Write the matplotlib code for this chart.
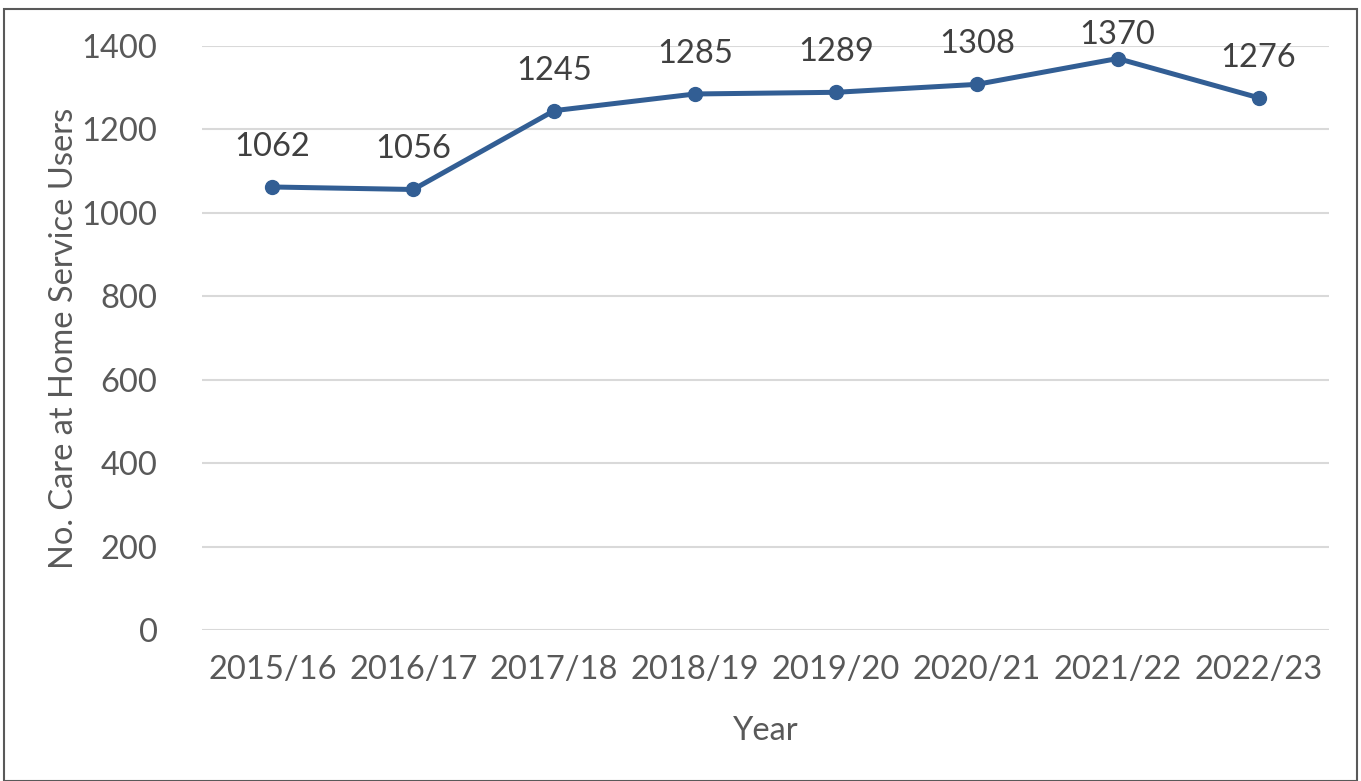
import matplotlib
matplotlib.use("Agg")
import matplotlib.pyplot as plt
from matplotlib.patches import Rectangle

plt.rcParams['font.family'] = ['Lato', 'DejaVu Sans']

years = ["2015/16", "2016/17", "2017/18", "2018/19", "2019/20", "2020/21", "2021/22", "2022/23"]
users = [1062, 1056, 1245, 1285, 1289, 1308, 1370, 1276]
y_ticks = [0, 200, 400, 600, 800, 1000, 1200, 1400]

fig = plt.figure(figsize=(13.61, 7.81), dpi=100)
ax = fig.add_axes([0.1484, 0.1934, 0.8281, 0.7477])

x = list(range(len(years)))
ax.plot(x, users, color="#325E94", lw=3.6, marker="o", markersize=10,
        solid_capstyle="round", zorder=3, clip_on=False)

# labels sit above the points; the top one is pushed down to stay inside the frame
for xi, v in zip(x, users):
    off = 18 if v < 1350 else 6
    ax.annotate(str(v), (xi, v), xytext=(0, off), textcoords="offset points",
                ha="center", va="bottom", fontsize=23.5, color="#404040")

ax.set_xlim(-0.5, len(years) - 0.5)
ax.set_ylim(0, 1400)
ax.set_xticks(x)
ax.set_xticklabels(years)
ax.set_yticks(y_ticks)
ax.tick_params(axis="both", length=0, labelsize=23.5, labelcolor="#595959")
ax.tick_params(axis="x", pad=18)
ax.tick_params(axis="y", pad=32)
ax.grid(axis="y", color="#D9D9D9", lw=1.5)
ax.set_axisbelow(True)
for s in ax.spines.values():
    s.set_visible(False)

ax.set_xlabel("Year", fontsize=23.5, color="#595959", labelpad=22)
ax.set_ylabel("No. Care at Home Service Users", fontsize=23.5, color="#595959", labelpad=2)

fig.patches.append(Rectangle((0.003, 0.0), 0.994, 0.988, transform=fig.transFigure,
                             fill=False, edgecolor="#595959", lw=1.5))

fig.savefig("out.png", dpi=100)
